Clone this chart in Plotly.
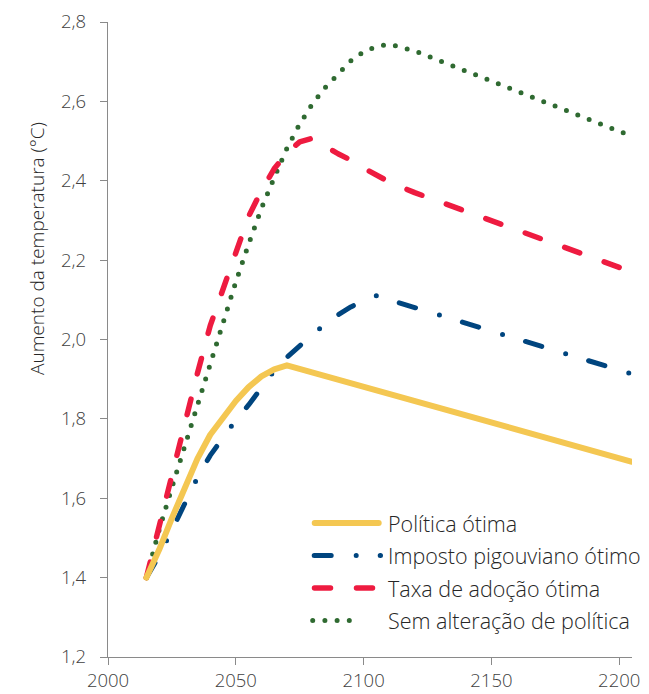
import plotly.graph_objects as go

# Temperature-increase scenarios (°C above pre-industrial)
years_otima = [2015, 2020, 2025, 2030, 2035, 2040, 2045, 2050, 2055, 2060, 2065, 2070, 2205]
politica_otima = [1.40, 1.47, 1.55, 1.63, 1.70, 1.76, 1.805, 1.845, 1.88, 1.907, 1.925, 1.935, 1.692]

years_pigou = [2015, 2020, 2025, 2030, 2035, 2040, 2045, 2050, 2055, 2060, 2065, 2070,
               2075, 2080, 2085, 2090, 2095, 2100, 2105, 2205]
imposto_pigouviano = [1.40, 1.455, 1.52, 1.585, 1.652, 1.708, 1.754, 1.797, 1.835, 1.876, 1.921,
                      1.955, 1.985, 2.013, 2.038, 2.062, 2.082, 2.098, 2.11, 1.913]

years_adocao = [2015, 2020, 2025, 2030, 2035, 2040, 2045, 2050, 2055, 2060, 2065, 2070, 2075,
                2080, 2085, 2090, 2095, 2100, 2110, 2120, 2205]
taxa_adocao = [1.40, 1.53, 1.66, 1.79, 1.915, 2.035, 2.13, 2.22, 2.31, 2.375, 2.43, 2.47, 2.498,
               2.507, 2.487, 2.468, 2.452, 2.432, 2.397, 2.37, 2.17]

years_sem = [2015, 2020, 2025, 2030, 2035, 2040, 2045, 2050, 2055, 2060, 2065, 2070, 2075,
             2080, 2085, 2090, 2095, 2100, 2105, 2110, 2115, 2120, 2205]
sem_alteracao = [1.40, 1.52, 1.627, 1.732, 1.837, 1.943, 2.047, 2.145, 2.24, 2.33, 2.407, 2.482,
                 2.543, 2.594, 2.635, 2.670, 2.702, 2.725, 2.738, 2.744, 2.737, 2.727, 2.512]

series_names = ["Política ótima", "Imposto pigouviano ótimo",
                "Taxa de adoção ótima", "Sem alteração de política"]

x_ticks = [2000, 2050, 2100, 2150, 2200]
y_ticks = [1.2, 1.4, 1.6, 1.8, 2.0, 2.2, 2.4, 2.6, 2.8]

YELLOW = "#F4C752"
BLUE = "#00457F"
RED = "#EE1B40"
GREEN = "#2F6A31"

styles = [
    dict(color=YELLOW, width=6, dash="solid"),
    dict(color=BLUE, width=5, dash="17px,25px,0px,24px"),
    dict(color=RED, width=5.5, dash="16px,26px"),
    dict(color=GREEN, width=5, dash="0px,12.2px"),
]

series = [
    (years_otima, politica_otima),
    (years_pigou, imposto_pigouviano),
    (years_adocao, taxa_adocao),
    (years_sem, sem_alteracao),
]

fig = go.Figure()
# draw order: dotted green underneath, yellow on top
for idx in [3, 2, 1, 0]:
    xs, ys = series[idx]
    fig.add_trace(go.Scatter(x=xs, y=ys, mode="lines", name=series_names[idx],
                             line=styles[idx], hoverinfo="skip"))

AXIS_GRAY = "#8A8A8A"
TICK_FONT = dict(family="Open Sans", size=18.5, color="#404040", weight=350)

fig.update_layout(
    width=649, height=694,
    margin=dict(l=108, r=17, t=22, b=37),
    plot_bgcolor="white", paper_bgcolor="white",
    showlegend=False,
    separators=",.",
    font=dict(family="Open Sans"),
    xaxis=dict(range=[2000, 2205], tickvals=x_ticks, showline=True, linecolor=AXIS_GRAY,
               linewidth=1.3, ticks="outside", ticklen=7, tickcolor=AXIS_GRAY, tickwidth=1.3,
               tickfont=TICK_FONT, showgrid=False, zeroline=False, ticklabelstandoff=0,
               automargin=False),
    yaxis=dict(range=[1.2, 2.8], tickvals=y_ticks, tickformat=".1f", showline=True,
               linecolor=AXIS_GRAY, linewidth=1.3, ticks="outside", ticklen=7,
               tickcolor=AXIS_GRAY, tickwidth=1.3, tickfont=TICK_FONT, showgrid=False,
               zeroline=False, ticklabelstandoff=10, automargin=False),
)

# Axis title
fig.add_annotation(text="Aumento da temperatura (°C)", xref="paper", yref="paper",
                   x=(37 - 108) / 524, y=(657 - 249) / 635, textangle=-90,
                   showarrow=False, xanchor="center", yanchor="middle",
                   font=dict(family="Open Sans", size=19, color="#262626", weight=350))


def px_x(p):
    return (p - 108) / 524


def px_y(p):
    return (657 - p) / 635


# Legend drawn as line samples + labels
legend_rows = [523, 555.5, 588, 620.5]
legend_spans = [(314.7, 378.7), (314.2, 380.5), (314.5, 375), (312.7, 349.5)]
for i in range(4):
    y = legend_rows[i]
    x0, x1 = legend_spans[i]
    st = styles[i]
    fig.add_shape(type="line", xref="paper", yref="paper",
                  x0=px_x(x0), x1=px_x(x1), y0=px_y(y), y1=px_y(y),
                  line=dict(color=st["color"], width=st["width"], dash=st["dash"]))
    fig.add_annotation(text=series_names[i], xref="paper", yref="paper",
                       x=px_x(386), y=px_y(y), showarrow=False,
                       xanchor="left", yanchor="middle",
                       font=dict(family="Open Sans", size=21.5, color="#262626", weight=350))

round_caps = """
var gd = document.getElementById('{plot_id}');
function roundCaps() {
  gd.querySelectorAll('path.js-line, .shapelayer path').forEach(function (p) {
    p.style.strokeLinecap = 'round';
    p.style.strokeLinejoin = 'round';
  });
}
roundCaps();
gd.on('plotly_afterplot', roundCaps);
setTimeout(roundCaps, 50);
"""

fig.write_html("out.html", post_script=round_caps)
